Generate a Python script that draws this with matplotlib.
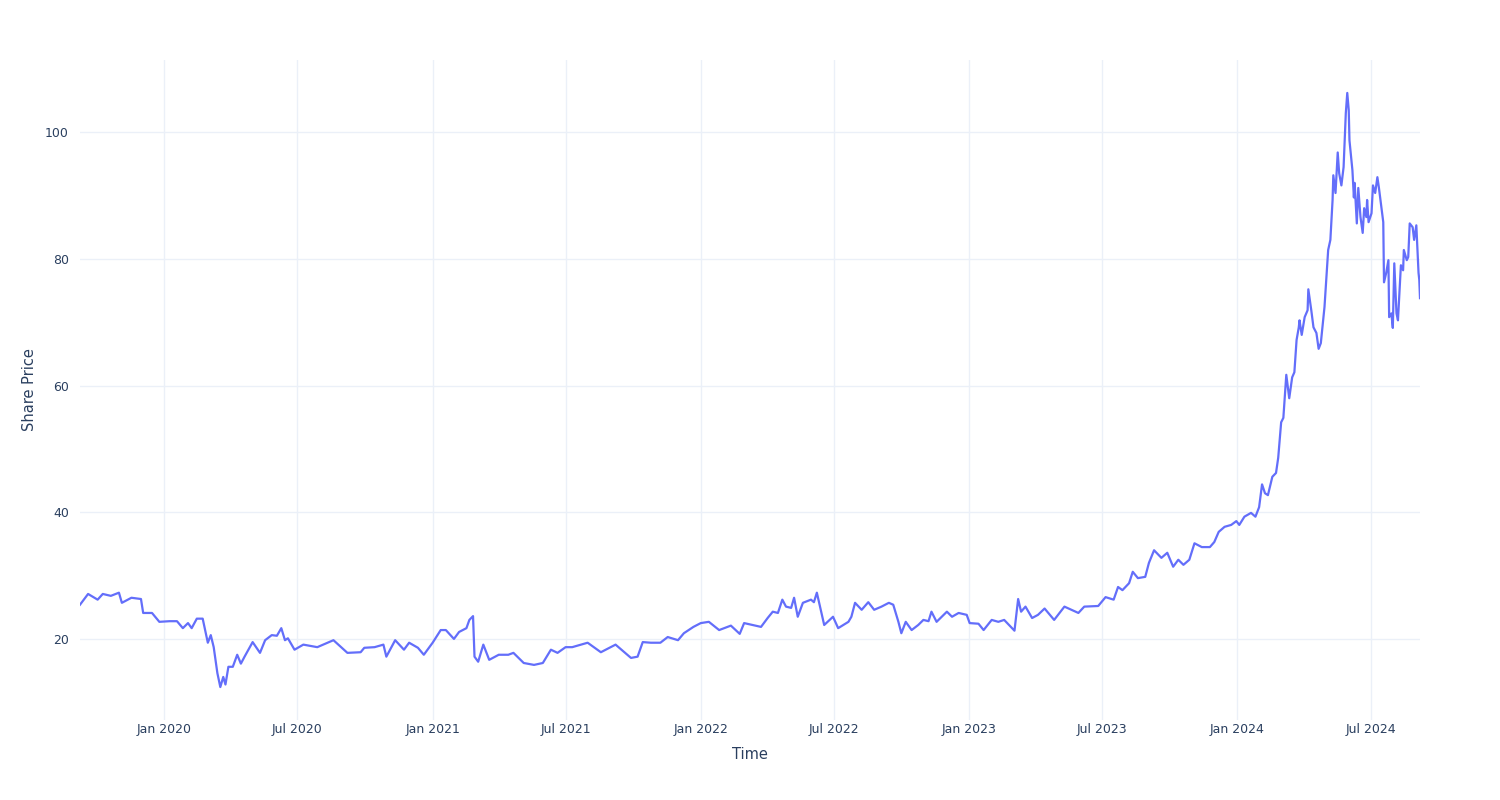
import matplotlib
matplotlib.use("Agg")
import matplotlib.pyplot as plt
import matplotlib.dates as mdates
import pandas as pd

# share price, roughly one point per swing
dates = [
    "2019-09-09", "2019-09-20", "2019-10-03", "2019-10-10", "2019-10-21", "2019-11-01",
    "2019-11-05", "2019-11-18", "2019-12-01", "2019-12-04", "2019-12-16", "2019-12-26",
    "2020-01-09", "2020-01-19", "2020-01-27", "2020-02-03", "2020-02-08", "2020-02-15",
    "2020-02-23", "2020-03-01", "2020-03-05", "2020-03-09", "2020-03-14", "2020-03-18",
    "2020-03-22", "2020-03-25", "2020-03-29", "2020-04-04", "2020-04-10", "2020-04-15",
    "2020-04-20", "2020-05-01", "2020-05-11", "2020-05-18", "2020-05-27", "2020-06-03",
    "2020-06-09", "2020-06-14", "2020-06-18", "2020-06-27", "2020-07-09", "2020-07-28",
    "2020-08-19", "2020-09-07", "2020-09-25", "2020-09-30", "2020-10-14", "2020-10-26",
    "2020-10-30", "2020-11-11", "2020-11-23", "2020-11-30", "2020-12-12", "2020-12-20",
    "2021-01-01", "2021-01-12", "2021-01-19", "2021-01-30", "2021-02-06", "2021-02-16",
    "2021-02-20", "2021-02-25", "2021-02-27", "2021-03-04", "2021-03-11", "2021-03-19",
    "2021-04-01", "2021-04-14", "2021-04-21", "2021-05-05", "2021-05-19", "2021-05-31",
    "2021-06-11", "2021-06-20", "2021-07-01", "2021-07-10", "2021-07-31", "2021-08-18",
    "2021-09-07", "2021-09-28", "2021-10-07", "2021-10-14", "2021-10-25", "2021-11-07",
    "2021-11-17", "2021-12-01", "2021-12-09", "2021-12-22", "2022-01-01", "2022-01-12",
    "2022-01-26", "2022-02-11", "2022-02-23", "2022-03-01", "2022-03-24", "2022-04-02",
    "2022-04-09", "2022-04-16", "2022-04-22", "2022-04-27", "2022-05-04", "2022-05-08",
    "2022-05-13", "2022-05-20", "2022-05-31", "2022-06-04", "2022-06-08", "2022-06-18",
    "2022-06-30", "2022-07-07", "2022-07-21", "2022-07-25", "2022-07-30", "2022-08-08",
    "2022-08-17", "2022-08-25", "2022-09-04", "2022-09-14", "2022-09-20", "2022-09-27",
    "2022-10-01", "2022-10-07", "2022-10-15", "2022-10-24", "2022-10-31", "2022-11-07",
    "2022-11-11", "2022-11-18", "2022-11-25", "2022-12-02", "2022-12-09", "2022-12-18",
    "2022-12-29", "2023-01-02", "2023-01-14", "2023-01-21", "2023-02-01", "2023-02-10",
    "2023-02-18", "2023-03-04", "2023-03-09", "2023-03-13", "2023-03-19", "2023-03-28",
    "2023-04-05", "2023-04-14", "2023-04-27", "2023-05-11", "2023-05-30", "2023-06-07",
    "2023-06-26", "2023-07-06", "2023-07-17", "2023-07-23", "2023-07-29", "2023-08-07",
    "2023-08-12", "2023-08-19", "2023-08-29", "2023-09-03", "2023-09-10", "2023-09-20",
    "2023-09-28", "2023-10-06", "2023-10-13", "2023-10-20", "2023-10-28", "2023-11-04",
    "2023-11-14", "2023-11-25", "2023-12-01", "2023-12-07", "2023-12-15", "2023-12-24",
    "2023-12-31", "2024-01-04", "2024-01-11", "2024-01-20", "2024-01-26", "2024-01-31",
    "2024-02-04", "2024-02-08", "2024-02-12", "2024-02-18", "2024-02-23", "2024-02-26",
    "2024-03-01", "2024-03-04", "2024-03-08", "2024-03-12", "2024-03-16", "2024-03-19",
    "2024-03-22", "2024-03-25", "2024-03-26", "2024-03-29", "2024-04-02", "2024-04-06",
    "2024-04-07", "2024-04-11", "2024-04-14", "2024-04-18", "2024-04-21", "2024-04-24",
    "2024-04-29", "2024-05-02", "2024-05-04", "2024-05-07", "2024-05-10", "2024-05-11",
    "2024-05-14", "2024-05-17", "2024-05-19", "2024-05-22", "2024-05-25", "2024-05-28",
    "2024-05-30", "2024-06-01", "2024-06-02", "2024-06-06", "2024-06-08", "2024-06-09",
    "2024-06-12", "2024-06-14", "2024-06-17", "2024-06-20", "2024-06-22", "2024-06-25",
    "2024-06-26", "2024-06-28", "2024-07-02", "2024-07-04", "2024-07-07", "2024-07-10",
    "2024-07-12", "2024-07-18", "2024-07-19", "2024-07-22", "2024-07-25", "2024-07-26",
    "2024-07-29", "2024-07-31", "2024-08-02", "2024-08-05", "2024-08-07", "2024-08-09",
    "2024-08-11", "2024-08-14", "2024-08-15", "2024-08-19", "2024-08-21", "2024-08-23",
    "2024-08-27", "2024-08-29", "2024-09-01", "2024-09-04", "2024-09-05", "2024-09-06",
]
prices = [
    25.4, 27.1, 26.2, 27.1, 26.8, 27.3,
    25.7, 26.5, 26.3, 24.1, 24.1, 22.7,
    22.8, 22.8, 21.7, 22.5, 21.7, 23.2,
    23.2, 19.4, 20.6, 18.7, 14.6, 12.4,
    14.0, 12.8, 15.6, 15.6, 17.5, 16.1,
    17.2, 19.5, 17.8, 19.8, 20.6, 20.5,
    21.7, 19.8, 20.1, 18.3, 19.1, 18.7,
    19.8, 17.8, 17.9, 18.6, 18.7, 19.1,
    17.2, 19.8, 18.3, 19.4, 18.6, 17.5,
    19.4, 21.4, 21.4, 20.0, 21.1, 21.7,
    23.0, 23.6, 17.2, 16.4, 19.1, 16.7,
    17.5, 17.5, 17.8, 16.2, 15.9, 16.2,
    18.3, 17.8, 18.7, 18.7, 19.4, 17.9,
    19.1, 17.0, 17.2, 19.5, 19.4, 19.4,
    20.3, 19.8, 20.9, 21.9, 22.5, 22.7,
    21.4, 22.1, 20.8, 22.5, 21.9, 23.3,
    24.3, 24.1, 26.2, 25.1, 24.9, 26.5,
    23.5, 25.7, 26.2, 25.8, 27.3, 22.2,
    23.5, 21.7, 22.7, 23.5, 25.7, 24.6,
    25.8, 24.6, 25.1, 25.7, 25.4, 22.7,
    20.9, 22.7, 21.4, 22.2, 23.0, 22.8,
    24.3, 22.7, 23.5, 24.3, 23.5, 24.1,
    23.8, 22.5, 22.4, 21.4, 23.0, 22.7,
    23.0, 21.3, 26.3, 24.3, 25.1, 23.3,
    23.8, 24.8, 23.0, 25.1, 24.1, 25.1,
    25.2, 26.6, 26.2, 28.2, 27.7, 28.8,
    30.6, 29.6, 29.8, 32.0, 34.0, 32.8,
    33.6, 31.4, 32.5, 31.7, 32.5, 35.1,
    34.5, 34.5, 35.3, 36.9, 37.7, 38.0,
    38.6, 38.0, 39.3, 39.9, 39.3, 40.8,
    44.4, 43.0, 42.7, 45.6, 46.2, 48.6,
    54.2, 54.9, 61.7, 58.0, 61.3, 62.1,
    67.2, 69.2, 70.3, 68.0, 70.8, 71.9,
    75.2, 71.9, 69.2, 68.3, 65.8, 66.7,
    72.4, 77.8, 81.4, 83.0, 89.3, 93.2,
    90.4, 96.8, 93.5, 91.6, 94.5, 103.0,
    106.2, 103.5, 98.7, 94.0, 89.7, 92.0,
    85.6, 91.2, 86.6, 84.1, 88.0, 86.6,
    89.3, 85.8, 87.2, 91.6, 90.4, 92.9,
    91.3, 85.8, 76.3, 77.8, 79.8, 70.8,
    71.4, 69.1, 79.3, 71.4, 70.3, 74.6,
    79.0, 78.2, 81.4, 79.8, 80.3, 85.6,
    85.0, 83.0, 85.3, 77.8, 76.7, 73.8,
]

df = pd.DataFrame({"Time": pd.to_datetime(dates), "Share Price": prices})

text_col = "#2a3f5f"
grid_col = "#ebf0f8"

fig = plt.figure(figsize=(15, 8), dpi=100)
ax = fig.add_axes([80 / 1500, 80 / 800, 1340 / 1500, 660 / 800])

ax.plot(df["Time"], df["Share Price"], color="#636efa", lw=1.6)

ax.set_xlim(df["Time"].iloc[0], df["Time"].iloc[-1])
ax.set_ylim(7.2, 111.4)
ax.set_yticks([20, 40, 60, 80, 100])
ax.xaxis.set_major_locator(mdates.MonthLocator(bymonth=[1, 7]))
ax.xaxis.set_major_formatter(mdates.DateFormatter("%b %Y"))

ax.grid(True, color=grid_col, lw=1)
ax.set_axisbelow(True)
for s in ax.spines.values():
    s.set_visible(False)
ax.tick_params(axis="both", length=0, labelsize=9, labelcolor=text_col)
ax.tick_params(axis="x", pad=2)
ax.tick_params(axis="y", pad=8)

ax.set_xlabel("Time", fontsize=10.5, color=text_col, labelpad=8)
ax.set_ylabel("Share Price", fontsize=10.5, color=text_col, labelpad=6)

fig.savefig("out.png", dpi=100, facecolor="white")
